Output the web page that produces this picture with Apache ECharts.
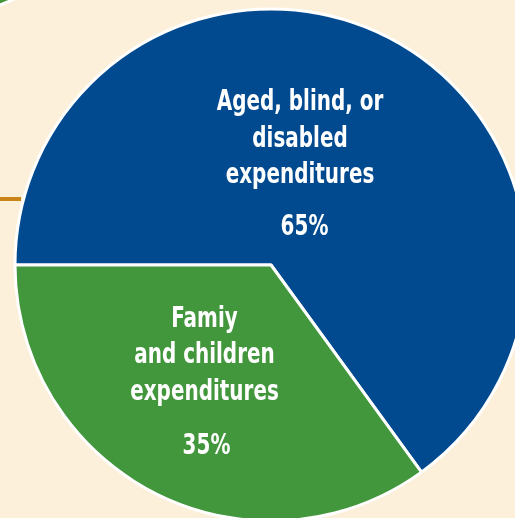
<!DOCTYPE html>
<html>
<head>
<meta charset="utf-8">
<script src="https://cdn.jsdelivr.net/npm/echarts@6/dist/echarts.min.js"></script>
<style>
  html, body { margin: 0; padding: 0; background: #fdf0db; }
  #chart { width: 515px; height: 518px; }
</style>
</head>
<body>
<div id="chart"></div>
<script>
// Spending shares
const categories = [
  'Aged, blind, or\ndisabled\nexpenditures',
  'Famiy\nand children\nexpenditures'
];
const shares = [65, 35];
const colors = ['#024a8f', '#42963c'];

// Where each slice's caption sits: [name x, name y, percent x, percent y]
const captionAnchors = [
  [300, 139, 304.5, 227.5],
  [204.5, 355.5, 206.5, 446]
];

const captionFont = 'bold 29px "DejaVu Sans Condensed", "DejaVu Sans", sans-serif';
const captionSquash = 0.765;

function captionText(text, x, y) {
  return {
    type: 'text',
    x: x,
    y: y,
    scaleX: captionSquash,
    z: 10,
    style: {
      text: text,
      font: captionFont,
      fill: '#ffffff',
      align: 'center',
      verticalAlign: 'middle',
      lineHeight: 36.5
    }
  };
}

const captions = [];
categories.forEach((name, i) => {
  const a = captionAnchors[i];
  captions.push(captionText(name, a[0], a[1]));
  captions.push(captionText(shares[i] + '%', a[2], a[3]));
});

const chart = echarts.init(document.getElementById('chart'));
chart.setOption({
  backgroundColor: '#fdf0db',
  animation: false,
  graphic: [
    {
      type: 'circle',
      shape: { cx: -71, cy: -182, r: 200 },
      style: { fill: '#42963c', stroke: '#ffffff', lineWidth: 3 },
      z: 1
    },
    {
      type: 'rect',
      shape: { x: 0, y: 197, width: 21, height: 4 },
      style: { fill: '#c98518' },
      z: 1
    }
  ].concat(captions),
  series: [{
    type: 'pie',
    center: [271, 265],
    radius: 256,
    startAngle: 180,
    clockwise: true,
    z: 5,
    itemStyle: { borderColor: '#ffffff', borderWidth: 3 },
    label: { show: false },
    labelLine: { show: false },
    data: categories.map((name, i) => ({
      name: name,
      value: shares[i],
      itemStyle: { color: colors[i] }
    }))
  }]
});
</script>
</body>
</html>
